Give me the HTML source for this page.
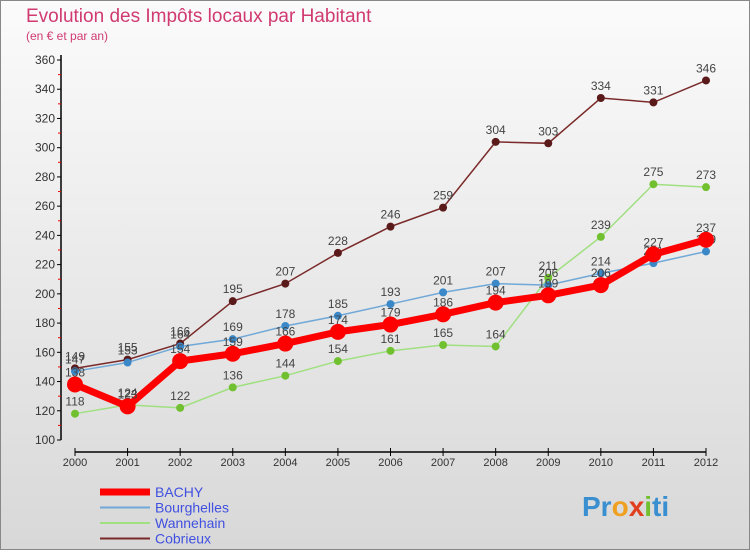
<!DOCTYPE html>
<html><head><meta charset="utf-8"><style>
body{margin:0;width:750px;height:550px;overflow:hidden;font-family:"Liberation Sans",sans-serif}
</style></head><body>
<svg width="750" height="550" xmlns="http://www.w3.org/2000/svg">
<defs><linearGradient id="bg" x1="0" y1="0" x2="0" y2="1"><stop offset="0" stop-color="#fbfbfb"/><stop offset="1" stop-color="#d8d8d8"/></linearGradient></defs>
<rect x="0.5" y="0.5" width="749" height="549" fill="url(#bg)" stroke="#888"/>
<text x="26" y="22" font-size="19" fill="#d03a70">Evolution des Impôts locaux par Habitant</text>
<text x="26" y="40" font-size="12" fill="#d03a70">(en € et par an)</text>
<g id="axes"></g><g id="series"></g><g id="legend"></g>
<text x="582" y="516" font-size="28" font-weight="bold" fill="#3a8fd0"><tspan fill="#3a8fd0">Pr</tspan><tspan fill="#f0a020">o</tspan><tspan fill="#e04020">x</tspan><tspan fill="#70c030">i</tspan><tspan fill="#3a8fd0">ti</tspan></text>
</svg>
<script>
const years=[2000,2001,2002,2003,2004,2005,2006,2007,2008,2009,2010,2011,2012];
const yTicks=[100,120,140,160,180,200,220,240,260,280,300,320,340,360];
const bachy=[138,123,154,159,166,174,179,186,194,199,206,227,237];
const bourghelles=[147,153,164,169,178,185,193,201,207,206,214,221,229];
const wannehain=[118,124,122,136,144,154,161,165,164,211,239,275,273];
const cobrieux=[149,155,166,195,207,228,246,259,304,303,334,331,346];
const NS="http://www.w3.org/2000/svg";
const X=i=>75+i*(706-75)/12, Y=v=>440-(v-100)*380/260;
function mk(t,a,p){const e=document.createElementNS(NS,t);for(const k in a)e.setAttribute(k,a[k]);p.appendChild(e);return e;}
const ax=document.getElementById('axes');
mk('line',{x1:61,y1:55,x2:61,y2:440,stroke:'#000','stroke-width':1.5},ax);
yTicks.forEach(v=>{mk('line',{x1:57,y1:Y(v),x2:61,y2:Y(v),stroke:'#000'},ax);
 const t=mk('text',{x:55,y:Y(v)+4,'text-anchor':'end','font-size':12,fill:'#333'},ax);t.textContent=v;
 
 if(v<360)mk('line',{x1:58,y1:Y(v+10),x2:61,y2:Y(v+10),stroke:'#e00'},ax);});
mk('line',{x1:75,y1:452,x2:706,y2:452,stroke:'#000','stroke-width':1.5},ax);
years.forEach((y,i)=>{mk('line',{x1:X(i),y1:448,x2:X(i),y2:456,stroke:'#000'},ax);
 const t=mk('text',{x:X(i),y:466,'text-anchor':'middle','font-size':11,fill:'#333'},ax);t.textContent=y;
 });
const sg=document.getElementById('series');
const S=[{n:'cobrieux',d:cobrieux,c:'#7a2a2a',w:1.5,r:4,f:'#5a1a1a'},{n:'wannehain',d:wannehain,c:'#a0e080',w:1.5,r:4,f:'#70c030'},{n:'bourghelles',d:bourghelles,c:'#70a8d8',w:1.5,r:4,f:'#3a88c8'},{n:'bachy',d:bachy,c:'#ff0000',w:7,r:8,f:'#ff0000'}];
S.forEach(s=>{const g=mk('g',{},sg);
 const p=mk('polyline',{points:s.d.map((v,i)=>X(i)+','+Y(v)).join(' '),fill:'none',stroke:s.c,'stroke-width':s.w},g);
 
 s.d.forEach((v,i)=>{const c=mk('circle',{cx:X(i),cy:Y(v),r:s.r,fill:s.f},g);
  
  const t=mk('text',{x:X(i),y:Y(v)-8,'text-anchor':'middle','font-size':12,fill:'#444'},g);t.textContent=v;
  });});
const lg=document.getElementById('legend');
[['BACHY','#ff0000',7],['Bourghelles','#70a8d8',2],['Wannehain','#a0e080',2],['Cobrieux','#7a2a2a',2]].forEach((e,i)=>{
 const g=mk('g',{},lg);
 const y=492+i*15.5;mk('line',{x1:100,y1:y,x2:150,y2:y,stroke:e[1],'stroke-width':e[2]},g);
 const t=mk('text',{x:155,y:y+5,'font-size':14,fill:'#4050e0'},g);t.textContent=e[0];});
</script>
</body></html>
